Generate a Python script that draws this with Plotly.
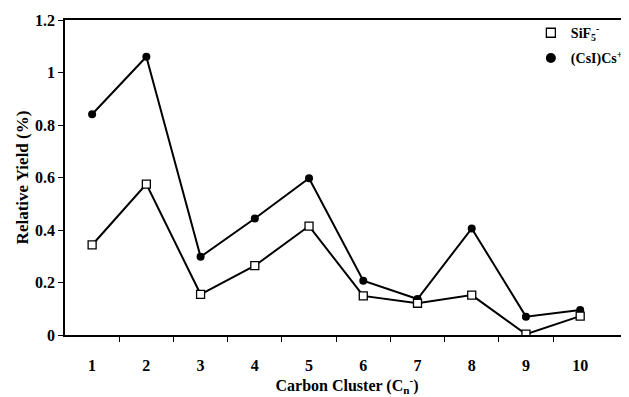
import plotly.graph_objects as go

clusters = [1, 2, 3, 4, 5, 6, 7, 8, 9, 10]
sif5 = [0.343, 0.575, 0.155, 0.264, 0.415, 0.149, 0.121, 0.152, 0.003, 0.072]
csics = [0.841, 1.06, 0.298, 0.444, 0.597, 0.207, 0.137, 0.406, 0.070, 0.095]
y_ticks = [0, 0.2, 0.4, 0.6, 0.8, 1.0, 1.2]
y_ticklabels = ["0", "0.2", "0.4", "0.6", "0.8", "1", "1.2"]
x_ticklabels = [str(c) for c in clusters]
x_sep = [c + 0.5 for c in clusters[:-1]]

FONT = "Liberation Serif, Times New Roman, serif"
fig = go.Figure()
fig.add_trace(go.Scatter(x=clusters, y=csics, mode="lines+markers",
                         line=dict(color="black", width=2),
                         marker=dict(symbol="circle", size=8, color="black"),
                         showlegend=False))
fig.add_trace(go.Scatter(x=clusters, y=sif5, mode="lines+markers",
                         line=dict(color="black", width=2),
                         marker=dict(symbol="square", size=8, color="white",
                                     line=dict(color="black", width=1.3)),
                         showlegend=False))
fig.add_trace(go.Scatter(x=[None], y=[None], mode="markers", name="SiF<sub>5</sub><sup>-</sup>",
                         legendgroup="a",
                         marker=dict(symbol="square", size=9, color="white",
                                     line=dict(color="black", width=1.3))))
fig.add_trace(go.Scatter(x=[None], y=[None], mode="markers", name="(CsI)Cs<sup>+</sup>",
                         legendgroup="b",
                         marker=dict(symbol="circle", size=10, color="black")))

fig.update_layout(
    width=621, height=389,
    margin=dict(l=57, r=0, t=12, b=62, autoexpand=False),
    paper_bgcolor="white", plot_bgcolor="white",
    font=dict(family=FONT, size=16, color="black"),
    showlegend=True,
    legend=dict(x=0.826, y=1.009, xanchor="left", yanchor="top", traceorder="grouped",
                bgcolor="rgba(0,0,0,0)", font=dict(family=FONT, size=14, weight="bold"),
                tracegroupgap=4, itemsizing="trace"),
    xaxis=dict(range=[0.5, 10.9], tickvals=clusters, ticktext=x_ticklabels,
               ticks="", ticklabelstandoff=15, showgrid=False, zeroline=False,
               showline=True, linecolor="black", linewidth=1.5, mirror=True,
               automargin=False,
               tickfont=dict(family=FONT, size=16, weight="bold"),
               minor=dict(tickvals=x_sep, ticks="outside", ticklen=5,
                          tickcolor="black", showgrid=False),
               title=dict(text="Carbon Cluster (C<sub>n</sub><sup>-</sup>)",
                          font=dict(family=FONT, size=16, weight="bold"), standoff=1)),
    yaxis=dict(range=[0, 1.2], tickvals=y_ticks, ticktext=y_ticklabels,
               ticks="outside", ticklen=5, tickcolor="black",
               showgrid=False, zeroline=False, automargin=False,
               showline=True, linecolor="black", linewidth=1.5,
               tickfont=dict(family=FONT, size=16, weight="bold"),
               title=dict(text="Relative Yield (%)",
                          font=dict(family=FONT, size=17, weight="bold"), standoff=2)),
)
fig.write_html("out.html")
